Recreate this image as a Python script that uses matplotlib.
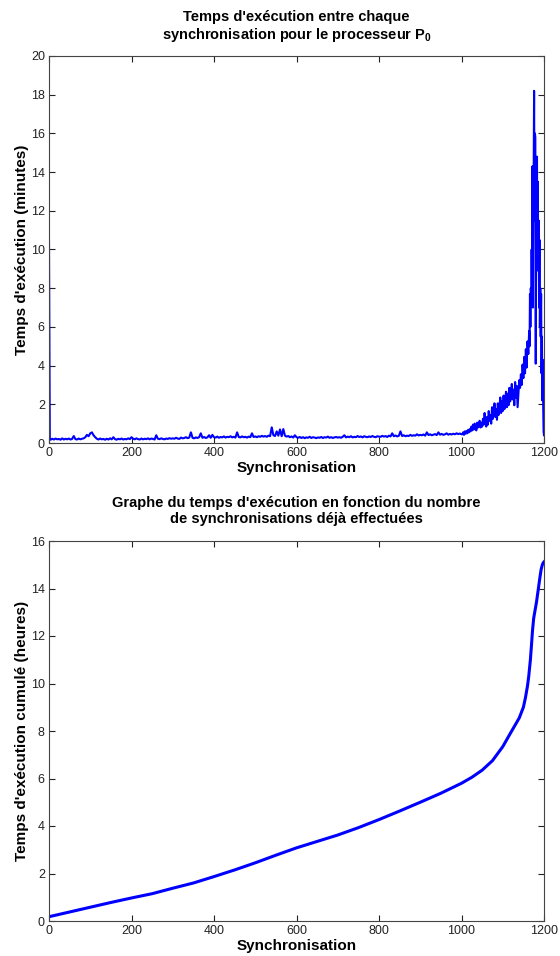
import numpy as np
import matplotlib
matplotlib.use("Agg")
import matplotlib.pyplot as plt

plt.rcParams['font.family'] = ['Liberation Sans', 'DejaVu Sans']
plt.rcParams['mathtext.fontset'] = 'custom'
plt.rcParams['mathtext.rm'] = 'Liberation Sans'
plt.rcParams['mathtext.bf'] = 'Liberation Sans:bold'

# ---- Top chart: execution time per synchronisation (minutes) ----
head_vals = [10.4, 5.3, 0.2]          # synchronisations 0, 1, 2

# every 4 synchronisations from 4 to 1000
base_vals = [
    0.17, 0.22, 0.18, 0.23, 0.19, 0.21, 0.17, 0.24, 0.18, 0.22, 0.19, 0.23, 0.18, 0.21, 0.36, 0.2, 0.18, 0.23, 0.19, 0.22, 0.24, 0.3, 0.42, 0.35, 0.5,
    0.55, 0.4, 0.3, 0.22, 0.18, 0.23, 0.19, 0.21, 0.17, 0.22, 0.18, 0.24, 0.19, 0.3, 0.2, 0.17, 0.22, 0.19, 0.23, 0.18, 0.21, 0.19, 0.24, 0.2, 0.3,
    0.22, 0.19, 0.24, 0.2, 0.18, 0.23, 0.19, 0.22, 0.2, 0.24, 0.19, 0.23, 0.21, 0.18, 0.4, 0.22, 0.2, 0.24, 0.21, 0.19, 0.23, 0.21, 0.25, 0.22, 0.24,
    0.22, 0.27, 0.23, 0.21, 0.28, 0.24, 0.26, 0.3, 0.25, 0.28, 0.55, 0.27, 0.24, 0.29, 0.26, 0.3, 0.5, 0.27, 0.31, 0.26, 0.29, 0.4, 0.27, 0.42, 0.3,
    0.28, 0.33, 0.27, 0.31, 0.29, 0.34, 0.28, 0.32, 0.3, 0.35, 0.29, 0.32, 0.28, 0.55, 0.31, 0.29, 0.34, 0.3, 0.32, 0.28, 0.33, 0.3, 0.5, 0.31, 0.34,
    0.3, 0.35, 0.32, 0.37, 0.33, 0.36, 0.32, 0.38, 0.35, 0.81, 0.4, 0.36, 0.6, 0.38, 0.7, 0.35, 0.72, 0.38, 0.33, 0.36, 0.3, 0.34, 0.28, 0.4, 0.3,
    0.27, 0.31, 0.26, 0.3, 0.25, 0.29, 0.27, 0.32, 0.26, 0.3, 0.28, 0.25, 0.29, 0.27, 0.31, 0.26, 0.3, 0.28, 0.33, 0.27, 0.3, 0.26, 0.29, 0.31, 0.28,
    0.3, 0.27, 0.32, 0.4, 0.29, 0.33, 0.3, 0.35, 0.29, 0.32, 0.3, 0.36, 0.31, 0.34, 0.29, 0.35, 0.32, 0.3, 0.34, 0.31, 0.36, 0.32, 0.3, 0.35, 0.33,
    0.32, 0.37, 0.33, 0.36, 0.31, 0.38, 0.34, 0.5, 0.35, 0.39, 0.34, 0.37, 0.6, 0.36, 0.4, 0.35, 0.38, 0.36, 0.42, 0.37, 0.4, 0.38, 0.45, 0.39, 0.42,
    0.4, 0.44, 0.38, 0.55, 0.41, 0.45, 0.4, 0.43, 0.46, 0.41, 0.55, 0.43, 0.47, 0.42, 0.45, 0.5, 0.43, 0.47, 0.44, 0.48, 0.45, 0.5, 0.46, 0.49, 0.45,
]

# every 2 synchronisations from 1002 to 1164
rise_vals = [
    0.45, 0.55, 0.42, 0.6, 0.48, 0.62, 0.5, 0.68, 0.55, 0.72,
    0.6, 0.85, 0.65, 0.95, 0.7, 1.0, 0.75, 0.65, 1.05, 0.8,
    0.95, 1.15, 0.8, 1.05, 0.85, 1.25, 0.95, 1.55, 1.05, 0.85,
    1.35, 0.95, 1.65, 1.15, 1.45, 1.0, 1.85, 1.25, 1.5, 2.05,
    1.35, 1.75, 1.2, 2.05, 1.45, 1.85, 2.35, 1.55, 2.15, 1.65,
    2.45, 1.75, 2.25, 2.65, 1.85, 2.55, 1.95, 2.85, 2.15, 2.65,
    3.05, 2.25, 2.75, 1.95, 3.15, 2.35, 2.95, 1.85, 2.6, 3.25,
    2.85, 3.55, 3.0, 4.05, 3.35, 4.45, 3.6, 4.85, 3.9, 5.25,
    4.6, 5.8,
]

# every synchronisation from 1165 to 1200
peak_vals = [
    5.0, 7.7, 6.0, 8.0, 7.5, 10.0, 8.0, 14.3, 7.0, 12.0, 14.0, 18.2,
    11.5, 16.0, 15.8, 4.1, 12.0, 10.0, 14.8, 9.0, 13.5, 8.9, 11.5, 7.0,
    10.5, 6.0, 8.0, 5.5, 7.7, 3.6, 5.5, 2.2, 4.3, 2.0, 0.6, 0.4,
]

# ---- Bottom chart: cumulative execution time (hours) ----
cum_sync = [0, 50, 100, 150, 200, 250, 300, 350, 400, 450, 500, 550, 600, 650, 700, 750, 800,
            850, 900, 950, 1000, 1025, 1050, 1075, 1100, 1120, 1140, 1150, 1155, 1160, 1163,
            1167, 1170, 1172, 1175, 1178, 1182, 1186, 1190, 1193, 1196, 1198, 1200]
cum_hours = [0.18, 0.38, 0.58, 0.78, 0.97, 1.15, 1.38, 1.6, 1.87, 2.15, 2.45, 2.77, 3.08, 3.35,
             3.62, 3.93, 4.27, 4.63, 5.0, 5.38, 5.8, 6.05, 6.35, 6.75, 7.34, 7.95, 8.55, 9.0,
             9.4, 9.9, 10.3, 11.0, 11.7, 12.2, 12.75, 13.05, 13.45, 13.95, 14.45, 14.8, 15.0,
             15.08, 15.12]

x_top = np.concatenate([np.arange(len(head_vals)),
                        4 * (np.arange(len(base_vals)) + 1),
                        1000 + 2 * (np.arange(len(rise_vals)) + 1),
                        1165 + np.arange(len(peak_vals))])
y_top = np.concatenate([head_vals, base_vals, rise_vals, peak_vals])

fig = plt.figure(figsize=(5.6, 9.56), dpi=100)
W, H = 560, 956

def add_axes(left, top, right, bottom):
    return fig.add_axes([left / W, 1 - bottom / H, (right - left) / W, (bottom - top) / H])

ax1 = add_axes(49, 56, 544, 443)
ax2 = add_axes(49, 541, 544, 921)

blue = '#0000ff'
ax1.plot(x_top, y_top, color=blue, lw=1.5)
ax2.plot(cum_sync, cum_hours, color=blue, lw=2.2)

for ax in (ax1, ax2):
    ax.set_xlim(0, 1200)
    ax.set_xticks(np.arange(0, 1201, 200))
    ax.tick_params(direction='in', top=True, right=True, length=4, width=0.8,
                   labelsize=9, colors='#222222', pad=3)
    for s in ax.spines.values():
        s.set_color('#444444')
        s.set_linewidth(0.8)
    ax.set_xlabel('Synchronisation', fontsize=11, fontweight='bold', labelpad=1)

ax1.set_ylim(0, 20)
ax1.set_yticks(np.arange(0, 21, 2))
ax2.set_ylim(0, 16)
ax2.set_yticks(np.arange(0, 17, 2))

ax1.set_ylabel("Temps d'exécution (minutes)", fontsize=11, fontweight='bold', labelpad=1.5)
ax2.set_ylabel("Temps d'exécution cumulé (heures)", fontsize=11, fontweight='bold', labelpad=1.5)

ax1.set_title("Temps d'exécution entre chaque\nsynchronisation pour le processeur P$_\\mathbf{0}$",
              fontsize=10.5, fontweight='bold', pad=12)
ax2.set_title("Graphe du temps d'exécution en fonction du nombre\nde synchronisations déjà effectuées",
              fontsize=10.5, fontweight='bold', pad=13)

fig.savefig('out.png', dpi=100, facecolor='white')
